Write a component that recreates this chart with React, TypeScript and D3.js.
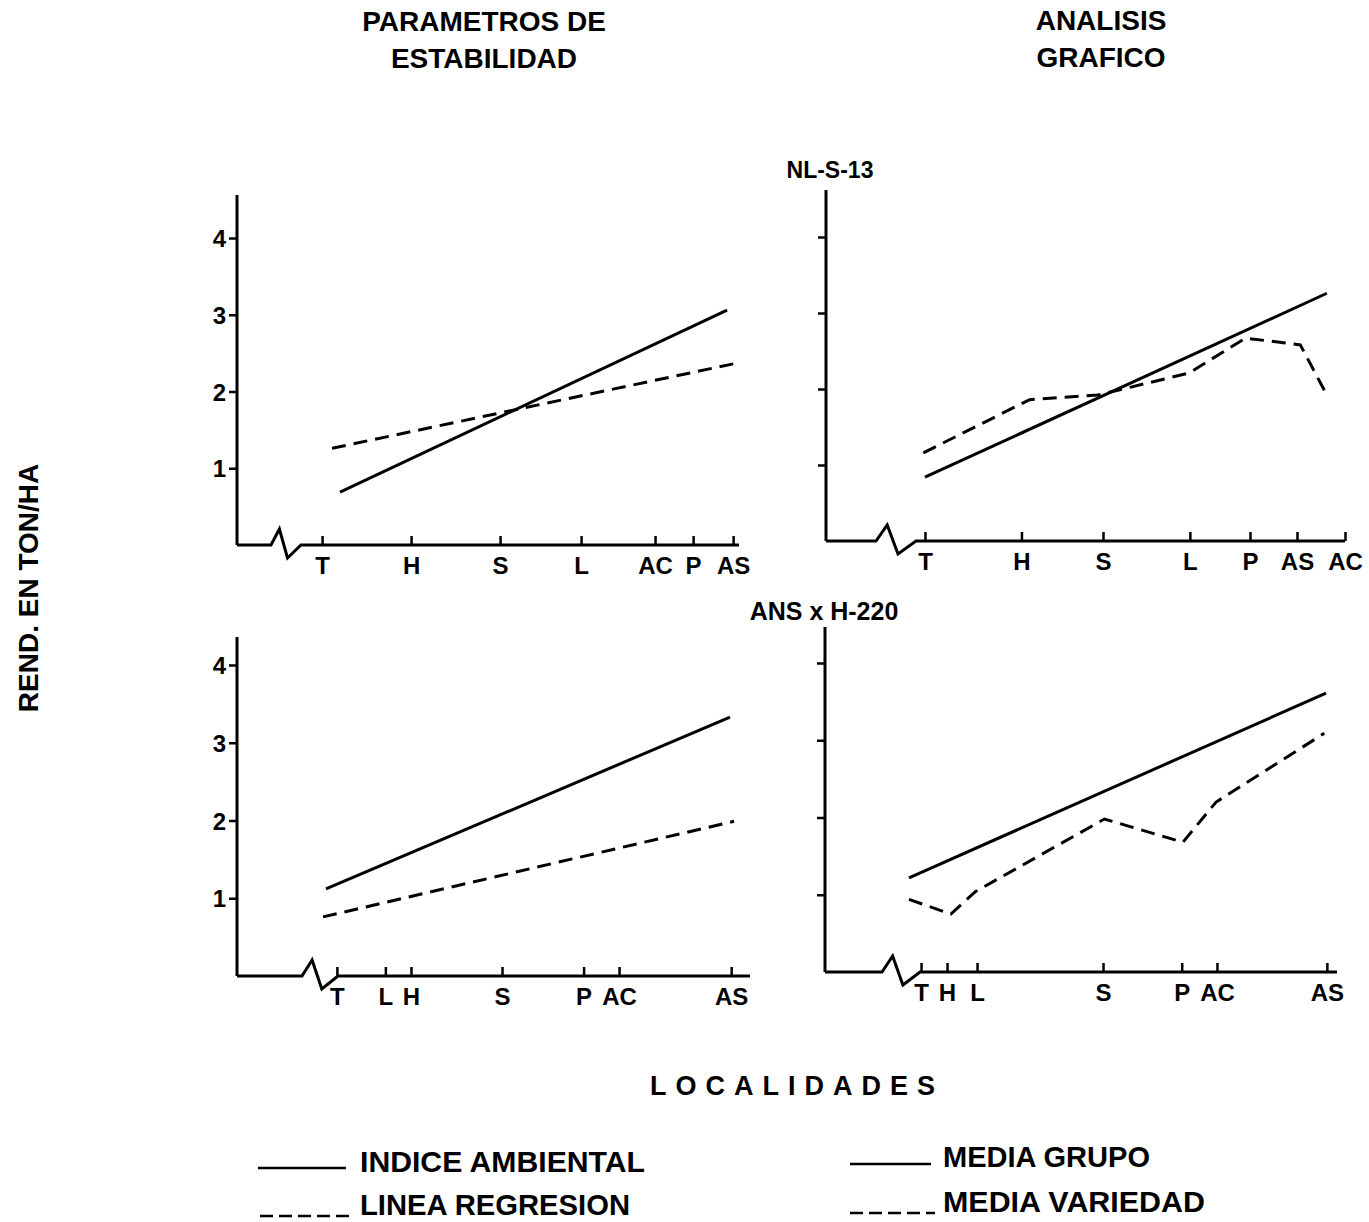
import React, { useEffect, useRef } from 'react';
import * as d3 from 'd3';

// posicion de cada localidad = indice ambiental (ton/ha)
const yTicks = [1, 2, 3, 4];
const yTickLabels = ['1', '2', '3', '4'];

// panel 1: parametros de estabilidad, NL-S-13
const p1Localidades = ['T', 'H', 'S', 'L', 'AC', 'P', 'AS'];
const p1Indice = [0.58, 1.125, 1.67, 2.166, 2.619, 2.852, 3.097];
const p1AmbientalX = [0.69, 3.06];
const p1AmbientalY = [0.69, 3.06];
const p1RegresionX = [0.641, 3.12];
const p1RegresionY = [1.26, 2.37];

// panel 2: analisis grafico, NL-S-13
const p2Localidades = ['T', 'H', 'S', 'L', 'P', 'AS', 'AC'];
const p2Indice = [0.84, 1.421, 1.912, 2.435, 2.797, 3.08, 3.369];
const p2GrupoX = [0.84, 3.26];
const p2GrupoY = [0.84, 3.26];
const p2VariedadX = [0.83, 1.47, 1.88, 2.43, 2.77, 3.1, 3.26];
const p2VariedadY = [1.16, 1.86, 1.92, 2.21, 2.67, 2.58, 1.92];

// panel 3: parametros de estabilidad, ANS x H-220
const p3Localidades = ['T', 'L', 'H', 'S', 'P', 'AC', 'AS'];
const p3Indice = [1.18, 1.445, 1.585, 2.083, 2.529, 2.723, 3.336];
const p3AmbientalX = [1.12, 3.33];
const p3AmbientalY = [1.12, 3.33];
const p3RegresionX = [1.104, 3.352];
const p3RegresionY = [0.76, 1.99];

// panel 4: analisis grafico, ANS x H-220
const p4Localidades = ['T', 'H', 'L', 'S', 'P', 'AC', 'AS'];
const p4Indice = [1.289, 1.438, 1.61, 2.332, 2.783, 2.985, 3.615];
const p4GrupoX = [1.22, 3.61];
const p4GrupoY = [1.22, 3.61];
const p4VariedadX = [1.22, 1.46, 1.6, 2.34, 2.79, 2.98, 3.6];
const p4VariedadY = [0.94, 0.75, 1.04, 1.98, 1.68, 2.2, 3.09];

const FONT = "'Liberation Sans', Arial, Helvetica, sans-serif";
const DASH = '14,8';

const zip = (xs: number[], ys: number[]) => xs.map((v, i) => [v, ys[i]] as [number, number]);

const panels = [
	{
		left: 237, top: 195, base: 545, y4: 238, breakStart: 271, breakEnd: 301, axisEnd: 739,
		xDomain: [0.451, 3.133], labels: true,
		localidades: p1Localidades, indice: p1Indice,
		solid: zip(p1AmbientalX, p1AmbientalY), dashed: zip(p1RegresionX, p1RegresionY)
	},
	{
		left: 826, top: 190, base: 541, y4: 237, breakStart: 876, breakEnd: 916, axisEnd: 1345,
		xDomain: [0.786, 3.369], labels: false,
		localidades: p2Localidades, indice: p2Indice,
		solid: zip(p2GrupoX, p2GrupoY), dashed: zip(p2VariedadX, p2VariedadY)
	},
	{
		left: 237, top: 637, base: 976, y4: 665, breakStart: 302, breakEnd: 338, axisEnd: 750,
		xDomain: [1.186, 3.439], labels: true,
		localidades: p3Localidades, indice: p3Indice,
		solid: zip(p3AmbientalX, p3AmbientalY), dashed: zip(p3RegresionX, p3RegresionY)
	},
	{
		left: 825, top: 627, base: 972, y4: 663, breakStart: 882, breakEnd: 920, axisEnd: 1337,
		xDomain: [1.283, 3.673], labels: false,
		localidades: p4Localidades, indice: p4Indice,
		solid: zip(p4GrupoX, p4GrupoY), dashed: zip(p4VariedadX, p4VariedadY)
	}
];

const drawPanel = (svg: any, p: any) => {
	const x = d3.scaleLinear().domain(p.xDomain).range([p.breakEnd, p.axisEnd]);
	const y = d3.scaleLinear().domain([0, 4]).range([p.base, p.y4]);
	const g = svg.append('g');

	// eje y
	g.append('line')
		.attr('x1', p.left).attr('x2', p.left)
		.attr('y1', p.top).attr('y2', y(0))
		.attr('stroke', '#000').attr('stroke-width', 3);

	const yAxis = d3.axisLeft(y)
		.tickValues(yTicks)
		.tickSize(8)
		.tickPadding(3)
		.tickFormat((d: any, i: number) => (p.labels ? yTickLabels[i] : ''));
	const ya = g.append('g').attr('transform', `translate(${p.left},0)`).call(yAxis);
	ya.select('.domain').remove();
	ya.attr('font-size', 24).attr('font-family', FONT).attr('font-weight', 'bold');
	ya.selectAll('line').attr('stroke-width', 2.5);
	ya.selectAll('text').attr('dy', '0.36em');

	// eje x con corte
	const b0 = p.breakStart;
	const w = p.breakEnd - p.breakStart;
	const base = y(0);
	g.append('path')
		.attr('d', d3.line()([
			[p.left, base], [b0, base], [b0 + w * 0.28, base - 16],
			[b0 + w * 0.55, base + 13], [p.breakEnd, base], [p.axisEnd, base]
		]))
		.attr('fill', 'none').attr('stroke', '#000').attr('stroke-width', 3)
		.attr('stroke-linejoin', 'miter');

	const xAxis = d3.axisBottom(x)
		.tickValues(p.indice)
		.tickFormat((d: any, i: number) => p.localidades[i])
		.tickSizeInner(-9)
		.tickSizeOuter(0)
		.tickPadding(12);
	const xa = g.append('g').attr('transform', `translate(0,${base})`).call(xAxis);
	xa.select('.domain').remove();
	xa.attr('font-size', 24).attr('font-family', FONT).attr('font-weight', 'bold');
	xa.selectAll('line').attr('stroke-width', 2.5);

	const line = d3.line().x((d: any) => x(d[0])).y((d: any) => y(d[1]));
	g.append('path').attr('d', line(p.solid))
		.attr('fill', 'none').attr('stroke', '#000').attr('stroke-width', 3);
	g.append('path').attr('d', line(p.dashed))
		.attr('fill', 'none').attr('stroke', '#000').attr('stroke-width', 3)
		.attr('stroke-dasharray', DASH);
};

const addText = (svg: any, txt: string, x: number, y: number, size: number, anchor = 'middle') =>
	svg.append('text')
		.attr('x', x).attr('y', y)
		.attr('font-family', FONT).attr('font-weight', 'bold')
		.attr('font-size', size).attr('text-anchor', anchor)
		.text(txt);

export default function App() {
	const chartRef = useRef<SVGSVGElement>(null);

	useEffect(() => {
		const svg = d3.select(chartRef.current);
		svg.selectAll('*').remove();

		svg.append('rect').attr('width', 1369).attr('height', 1222).attr('fill', '#fff');

		// titulos
		addText(svg, 'PARAMETROS DE', 484, 31, 28);
		addText(svg, 'ESTABILIDAD', 484, 68, 28);
		addText(svg, 'ANALISIS', 1101, 30, 28);
		addText(svg, 'GRAFICO', 1101, 67, 28);
		addText(svg, 'NL-S-13', 830, 178, 23);
		addText(svg, 'ANS x H-220', 824, 620, 25);

		addText(svg, 'REND. EN TON/HA', 0, 0, 28).attr('transform', 'translate(38,588) rotate(-90)');
		addText(svg, 'LOCALIDADES', 797, 1095, 27).attr('letter-spacing', 9);

		panels.forEach((p) => drawPanel(svg, p));

		// leyenda
		const legend = [
			{ x1: 258, x2: 346, ly: 1168, tx: 360, ty: 1172, len: 285, label: 'INDICE AMBIENTAL', dash: false },
			{ x1: 260, x2: 351, ly: 1216, tx: 360, ty: 1215, len: 270, label: 'LINEA REGRESION', dash: true },
			{ x1: 850, x2: 931, ly: 1164, tx: 943, ty: 1167, len: 207, label: 'MEDIA GRUPO', dash: false },
			{ x1: 850, x2: 935, ly: 1213, tx: 943, ty: 1212, len: 262, label: 'MEDIA VARIEDAD', dash: true }
		];
		legend.forEach((l) => {
			svg.append('line')
				.attr('x1', l.x1).attr('x2', l.x2).attr('y1', l.ly).attr('y2', l.ly)
				.attr('stroke', '#000').attr('stroke-width', 2.5)
				.attr('stroke-dasharray', l.dash ? '13,6' : null);
			addText(svg, l.label, l.tx, l.ty, 30, 'start')
				.attr('textLength', l.len)
				.attr('lengthAdjust', 'spacingAndGlyphs');
		});
	}, []);

	return (
		<svg
			ref={chartRef}
			width={1369}
			height={1222}
			style={{ position: 'absolute', left: 0, top: 0, display: 'block' }}
		/>
	);
}
